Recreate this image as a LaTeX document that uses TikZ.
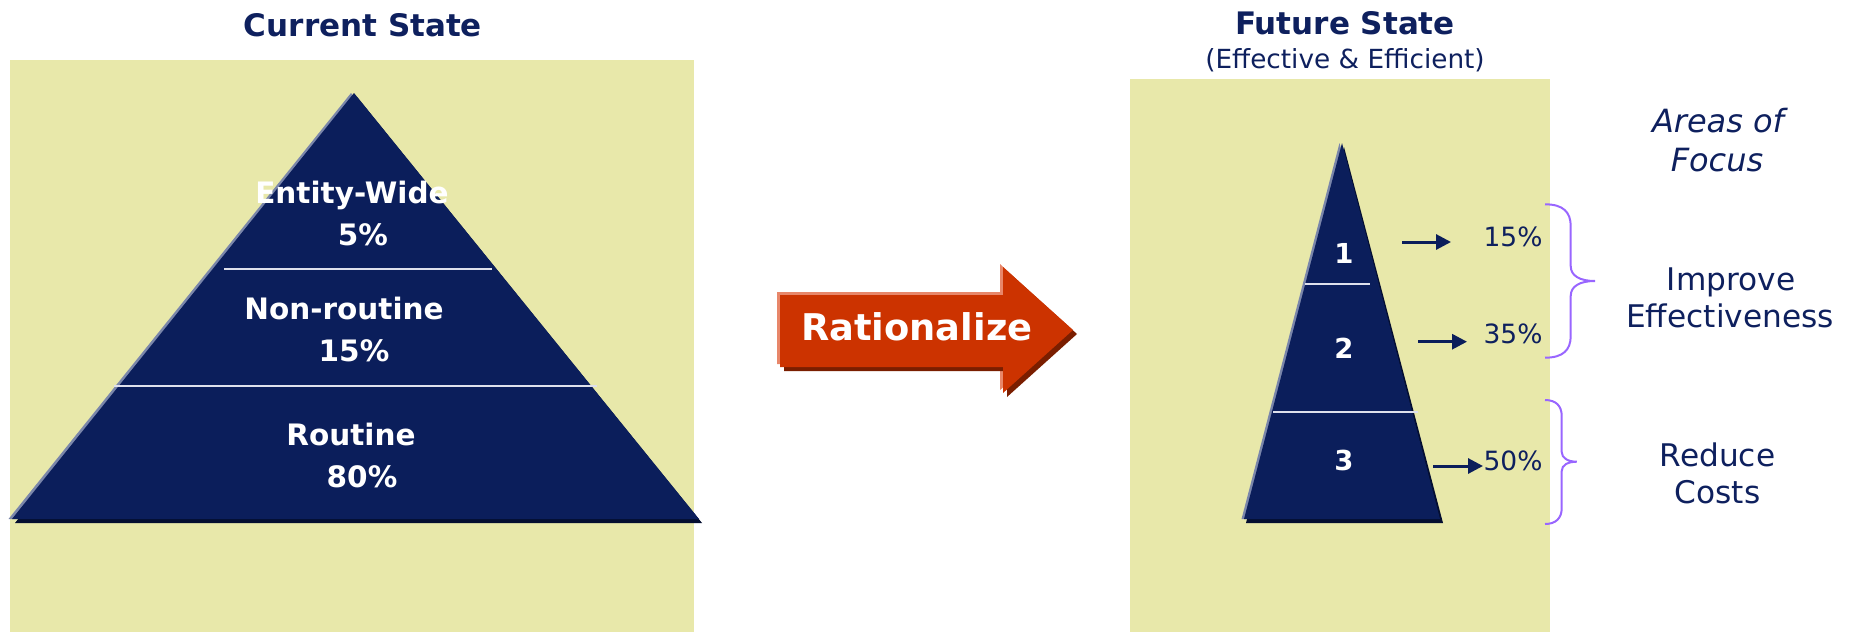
\documentclass[tikz,border=0pt]{standalone}
\usepackage{fontspec}
\setmainfont{DejaVu Sans}
\usetikzlibrary{arrows.meta}
\definecolor{navy}{RGB}{11,30,91}
\definecolor{txtnavy}{RGB}{14,32,94}
\definecolor{panelyellow}{RGB}{232,232,170}
\definecolor{edgelight}{RGB}{122,134,170}
\definecolor{edgedark}{RGB}{4,14,48}
\definecolor{ratred}{RGB}{204,51,0}
\definecolor{ratdark}{RGB}{122,30,0}
\definecolor{ratlight}{RGB}{232,135,106}
\definecolor{bracecol}{RGB}{153,102,255}
\definecolor{dividercol}{RGB}{222,224,236}
\begin{document}
\begin{tikzpicture}[x=0.5pt,y=-0.5pt,
  lbl/.style={anchor=base, inner sep=0pt, text=txtnavy},
  titletext/.style={lbl, font=\bfseries\fontsize{15.5pt}{18pt}\selectfont},
  subtext/.style={lbl, font=\fontsize{13.15pt}{16pt}\selectfont},
  pyrtext/.style={anchor=base, inner sep=0pt, text=white, font=\bfseries\fontsize{14.75pt}{17pt}\selectfont},
  numtext/.style={anchor=base, inner sep=0pt, text=white, font=\bfseries\fontsize{13.75pt}{16pt}\selectfont},
  pcttext/.style={lbl, font=\fontsize{13.25pt}{16pt}\selectfont},
  focustext/.style={lbl, font=\itshape\fontsize{16pt}{19pt}\selectfont},
  areatext/.style={lbl, font=\fontsize{15.6pt}{19pt}\selectfont},
  divline/.style={draw=dividercol, line width=1pt},
  pctarrow/.style={draw=navy, line width=1.5pt, -{Triangle[length=7.5pt,width=7.5pt]}},
  bracestyle/.style={draw=bracecol, line width=1pt}
]
\useasboundingbox (0,0) rectangle (1856,632);
% panels
\fill[panelyellow] (10,60) rectangle (694,632);
\fill[panelyellow] (1130,79) rectangle (1550,632);

% titles
\node[titletext] (curtitle) at (363,36.7) {Current State};
\node[titletext] (futtitle) at (1345,34.3) {Future State};
\node[subtext] (futsub) at (1345,68) {(Effective \& Efficient)};

% left pyramid
\fill[edgelight] (351,93) -- (8.5,519) -- (696,519) -- cycle;
\fill[edgedark] (357,97) -- (15,523) -- (702,523) -- cycle;
\fill[navy] (354,93) -- (12,519) -- (699,519) -- cycle;
\draw[divline] (224,269.3) -- (492,269.3);
\draw[divline] (114,385.7) -- (597,385.7);
\node[pyrtext] (ew) at (352,203) {Entity-Wide};
\node[pyrtext] (ewp) at (363,245) {5\%};
\node[pyrtext] (nr) at (344,319.3) {Non-routine};
\node[pyrtext] (nrp) at (354,361) {15\%};
\node[pyrtext] (rt) at (351,445) {Routine};
\node[pyrtext] (rtp) at (362,487.7) {80\%};

% rationalize arrow
\fill[ratlight] (777,292) -- (1000,292) -- (1000,264) -- (1071,330) -- (1000,390) -- (1000,364) -- (777,364) -- cycle;
\fill[ratdark] (784,299) -- (1007,299) -- (1007,271) -- (1077,334) -- (1007,397) -- (1007,371) -- (784,371) -- cycle;
\fill[ratred] (780,295) -- (1003,295) -- (1003,267) -- (1073,330) -- (1003,393) -- (1003,367) -- (780,367) -- cycle;
\node[anchor=base, inner sep=0pt, text=white, font=\bfseries\fontsize{18.4pt}{21pt}\selectfont] (ratl) at (916.7,340.5) {Rationalize};

% right pyramid
\fill[edgelight] (1339.5,143) -- (1241.5,519) -- (1437.5,519) -- cycle;
\fill[edgedark] (1344,147) -- (1246,523) -- (1443,523) -- cycle;
\fill[navy] (1342,143) -- (1244,519) -- (1440,519) -- cycle;
\draw[divline] (1305,284) -- (1370,284);
\draw[divline] (1273,411.7) -- (1418,411.7);
\node[numtext] (n1) at (1344,263.3) {1};
\node[numtext] (n2) at (1344,358) {2};
\node[numtext] (n3) at (1344,470) {3};

% percentage arrows
\coordinate (a1s) at (1402,242);
\coordinate (a1e) at (1451,242);
\coordinate (a2s) at (1418,341.7);
\coordinate (a2e) at (1467,341.7);
\coordinate (a3s) at (1433,466);
\coordinate (a3e) at (1483,466);
\draw[pctarrow] (a1s) -- (a1e);
\draw[pctarrow] (a2s) -- (a2e);
\draw[pctarrow] (a3s) -- (a3e);
\node[pcttext] (p15) at (1513,246.7) {15\%};
\node[pcttext] (p35) at (1513,343.3) {35\%};
\node[pcttext] (p50) at (1513,470) {50\%};

% braces
\draw[bracestyle] (1545,204.3) .. controls (1563,204.3) and (1570.7,212) .. (1570.7,226)
  -- (1570.7,266) .. controls (1570.7,276) and (1580,281) .. (1595,281)
  .. controls (1580,281) and (1570.7,286) .. (1570.7,296)
  -- (1570.7,336) .. controls (1570.7,350) and (1563,357.7) .. (1545,357.7);
\draw[bracestyle] (1545,400) .. controls (1556,400) and (1561.7,406) .. (1561.7,416)
  -- (1561.7,452) .. controls (1561.7,458) and (1568,461.7) .. (1576.7,461.7)
  .. controls (1568,461.7) and (1561.7,465) .. (1561.7,471)
  -- (1561.7,508) .. controls (1561.7,518) and (1556,524) .. (1545,524);

% right texts
\node[focustext] (ar1) at (1718,132.7) {Areas of};
\node[focustext] (ar2) at (1717,171.7) {Focus};
\node[areatext] (im1) at (1731,290) {Improve};
\node[areatext] (im2) at (1730,327.3) {Effectiveness};
\node[areatext] (rc1) at (1717.5,466) {Reduce};
\node[areatext] (rc2) at (1717.5,503.3) {Costs};
\end{tikzpicture}
\end{document}
